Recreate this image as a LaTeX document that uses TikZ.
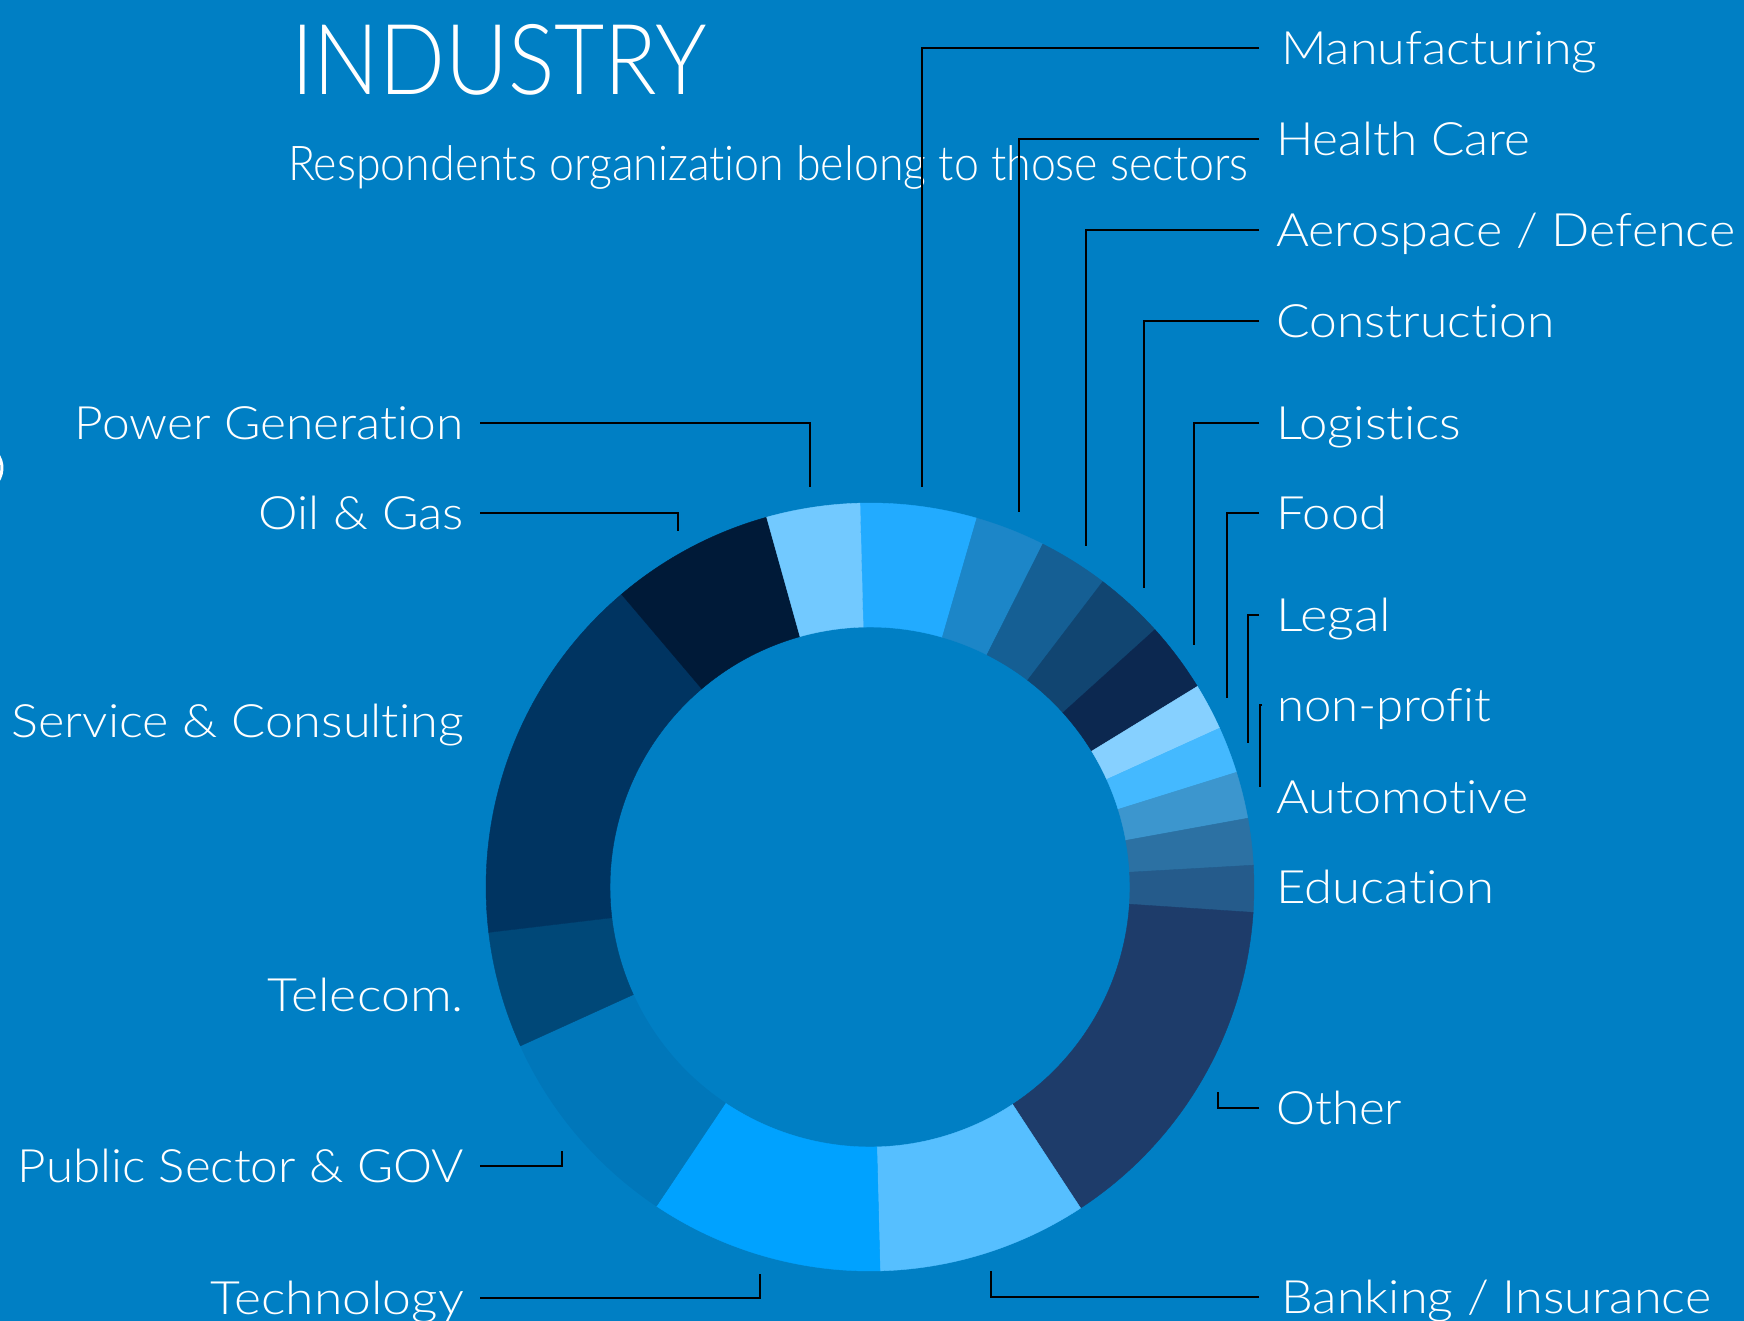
\documentclass[tikz,border=0pt]{standalone}
\usepackage{fontspec}
\setmainfont{Lato}[UprightFont=* Light, Ligatures={NoCommon}, RawFeature={-liga;-dlig}]
\usepackage{graphicx}
\definecolor{bg}{RGB}{0,127,196}
\definecolor{cmanu}{RGB}{34,171,255}
\definecolor{chealth}{RGB}{28,134,200}
\definecolor{caero}{RGB}{21,95,148}
\definecolor{cconstr}{RGB}{17,69,113}
\definecolor{clogi}{RGB}{12,40,80}
\definecolor{cfood}{RGB}{134,208,255}
\definecolor{clegal}{RGB}{68,185,255}
\definecolor{cnonprofit}{RGB}{60,150,206}
\definecolor{cauto}{RGB}{44,113,163}
\definecolor{cedu}{RGB}{37,91,139}
\definecolor{cother}{RGB}{30,60,106}
\definecolor{cbank}{RGB}{86,191,255}
\definecolor{ctech}{RGB}{0,162,255}
\definecolor{cpublic}{RGB}{0,119,186}
\definecolor{ctelecom}{RGB}{0,72,120}
\definecolor{cservice}{RGB}{0,52,97}
\definecolor{coil}{RGB}{0,26,56}
\definecolor{cpower}{RGB}{114,201,255}
\newcommand\fitw[2]{\resizebox{#1}{\height}{#2}}
\tikzset{
  lbl/.style={text=white, font=\fontsize{46}{50}\selectfont, inner sep=0pt},
  rlbl/.style={lbl, anchor=base west},
  llbl/.style={lbl, anchor=base east},
  leader/.style={draw=black, line width=2pt},
}
\begin{document}
\begin{tikzpicture}[x=1pt,y=1pt]
\fill[bg] (0,0) rectangle (1744,-1321);
\path[use as bounding box] (0,0) rectangle (1744,-1321);

% donut
\begin{scope}[shift={(870,-887)}]
\foreach \s/\e/\c in {91.5/73.85/cmanu, 73.85/63.26/chealth, 63.26/52.68/caero,
  52.68/42.09/cconstr, 42.09/31.5/clogi, 31.5/24.44/cfood, 24.44/17.38/clegal,
  17.38/10.32/cnonprofit, 10.32/3.26/cauto, 3.26/-3.79/cedu, -3.79/-56.74/cother,
  -56.74/-88.5/cbank, -88.5/-123.79/ctech, -123.79/-155.56/cpublic,
  -155.56/-173.21/ctelecom, -173.21/-229.68/cservice, -229.68/-254.38/coil,
  -254.38/-268.5/cpower}
{
  \fill[\c, draw=\c, line width=0.4pt] (\s:384) arc[start angle=\s, end angle=\e, radius=384]
     -- (\e:260) arc[start angle=\e, end angle=\s, radius=260] -- cycle;
}
\end{scope}

% small white arc at the left edge
\draw[white, line width=3pt] (-22,-468) ++(-60:24) arc[start angle=-60, end angle=60, radius=24];

% title
\node[text=white, font=\fontsize{98}{100}\selectfont, inner sep=0pt, anchor=base west] (title) at (291,-94.5) {\fitw{416pt}{INDUSTRY}};
\node[text=white, font=\fontsize{48}{52}\selectfont, inner sep=0pt, anchor=base west] (subtitle) at (288,-181) {\fitw{960pt}{Respondents organization belong to those sectors}};

% right labels
\node[rlbl] (manu) at (1281,-64.5) {\fitw{316pt}{Manufacturing}};
\node[rlbl] (health) at (1276,-155.5) {\fitw{254pt}{Health Care}};
\node[rlbl] (aero) at (1276,-246.5) {\fitw{459pt}{Aerospace / Defence}};
\node[rlbl] (constr) at (1276,-337.5) {\fitw{278pt}{Construction}};
\node[rlbl] (logi) at (1276,-439.5) {\fitw{185pt}{Logistics}};
\node[rlbl] (food) at (1276,-529.5) {\fitw{111pt}{Food}};
\node[rlbl] (legal) at (1276,-631.5) {\fitw{115pt}{Legal}};
\node[rlbl] (nonprofit) at (1277,-721.5) {\fitw{214pt}{non-profit}};
\node[rlbl] (auto) at (1276,-813.5) {\fitw{252pt}{Automotive}};
\node[rlbl] (edu) at (1276,-903.5) {\fitw{218pt}{Education}};
\node[rlbl] (other) at (1276,-1124.5) {\fitw{126pt}{Other}};
\node[rlbl] (bank) at (1281,-1313.5) {\fitw{430pt}{Banking / Insurance}};

% left labels
\node[llbl] (power) at (464,-439.5) {\fitw{389pt}{Power Generation}};
\node[llbl] (oil) at (464,-529.5) {\fitw{205pt}{Oil \& Gas}};
\node[llbl] (service) at (464,-737.5) {\fitw{452pt}{Service \& Consulting}};
\node[llbl] (telecom) at (464,-1011.5) {\fitw{196pt}{Telecom.}};
\node[llbl] (public) at (464,-1182.5) {\fitw{446pt}{Public Sector \& GOV}};
\node[llbl] (tech) at (464,-1314.5) {\fitw{253pt}{Technology}};

% leader line end points
\coordinate (manuA) at (1259,-48);     \coordinate (manuB) at (922,-487);
\coordinate (healthA) at (1259,-139);  \coordinate (healthB) at (1019,-512);
\coordinate (aeroA) at (1259,-230);    \coordinate (aeroB) at (1086,-546);
\coordinate (constrA) at (1259,-321);  \coordinate (constrB) at (1144,-588);
\coordinate (logiA) at (1259,-423);    \coordinate (logiB) at (1194,-645);
\coordinate (foodA) at (1259,-513);    \coordinate (foodB) at (1227,-698);
\coordinate (legalA) at (1259,-615);   \coordinate (legalB) at (1248,-743);
\coordinate (nonprofitA) at (1262,-705); \coordinate (nonprofitB) at (1260,-787);
\coordinate (otherA) at (1259,-1108);  \coordinate (otherB) at (1218,-1092);
\coordinate (bankA) at (1259,-1297);   \coordinate (bankB) at (991,-1271);
\coordinate (powerA) at (480,-423);    \coordinate (powerB) at (810,-487);
\coordinate (oilA) at (480,-513);      \coordinate (oilB) at (678,-531);
\coordinate (publicA) at (480,-1166);  \coordinate (publicB) at (562,-1151);
\coordinate (techA) at (480,-1298);    \coordinate (techB) at (760,-1274);

\foreach \n in {manu,health,aero,constr,logi,food,legal,nonprofit,other,bank,power,oil,public,tech}
  \draw[leader] (\n A) -| (\n B);
\end{tikzpicture}
\end{document}
